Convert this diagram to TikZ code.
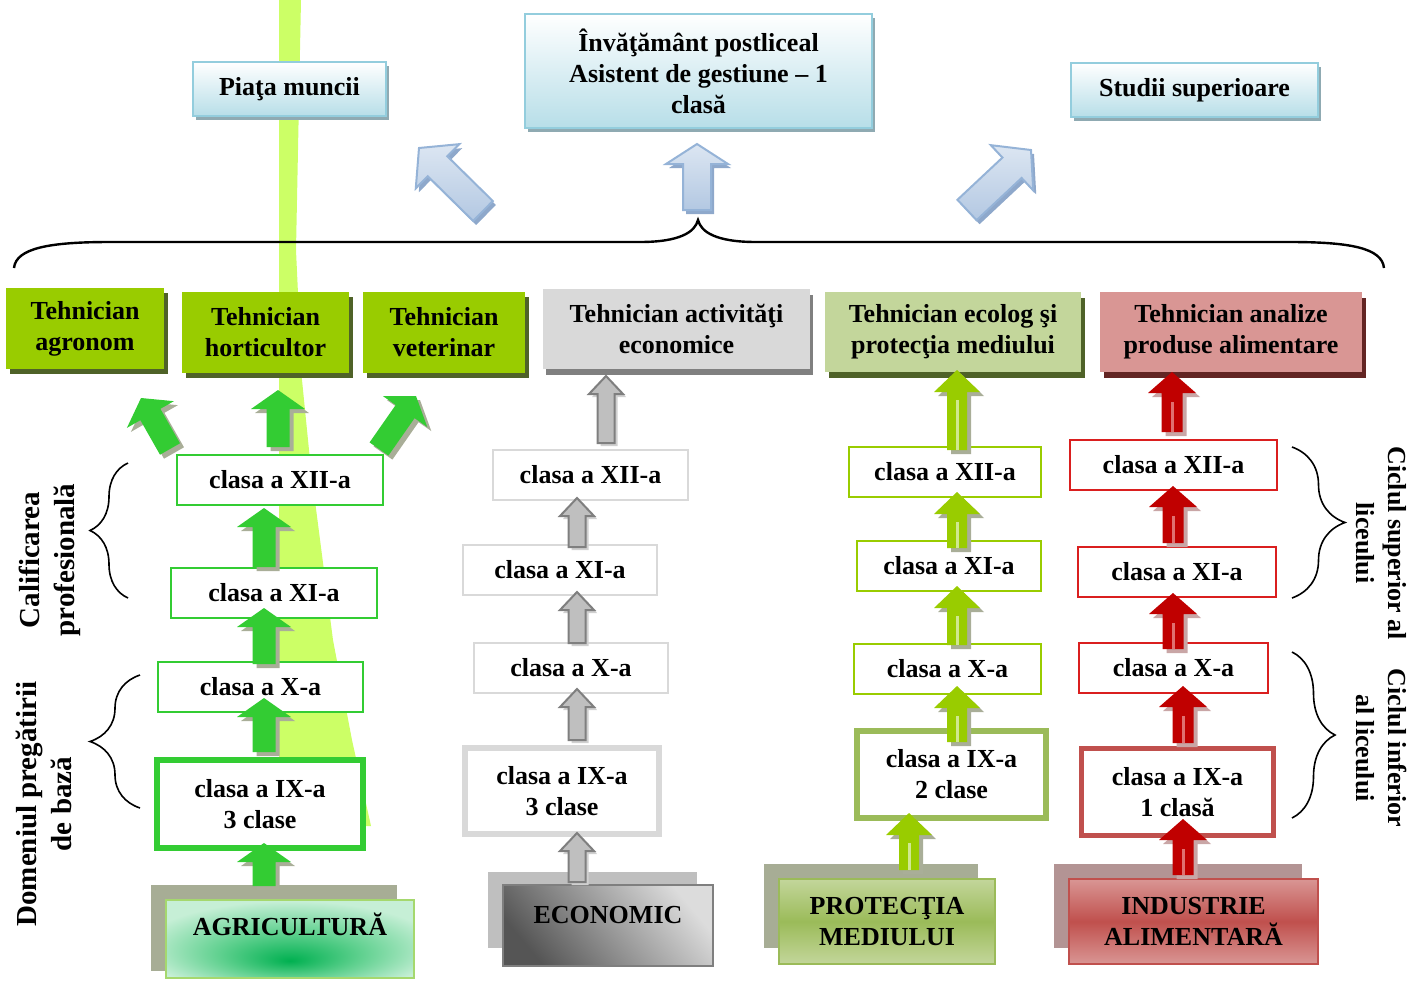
\documentclass[tikz,border=0pt]{standalone}
\usepackage{fontspec}
\setmainfont{Liberation Serif}
\usetikzlibrary{calc,shadows,decorations.pathreplacing}
\definecolor{band}{HTML}{CCFF66}
\definecolor{tbord}{HTML}{93CDDD}
\definecolor{tblue}{HTML}{B7DEE8}
\definecolor{tshad}{HTML}{8FAAB2}
\definecolor{hgreen}{HTML}{99CC00}
\definecolor{hgshad}{HTML}{4F6228}
\definecolor{hgray}{HTML}{D9D9D9}
\definecolor{hgrshad}{HTML}{808080}
\definecolor{holive}{HTML}{C3D69B}
\definecolor{hpink}{HTML}{D99694}
\definecolor{hpshad}{HTML}{632523}
\definecolor{cgreen}{HTML}{33CC33}
\definecolor{clime}{HTML}{99CC00}
\definecolor{cred}{HTML}{DA1F1F}
\definecolor{olive9}{HTML}{9BBB59}
\definecolor{red9}{HTML}{C0504D}
\definecolor{aback}{HTML}{A7AD95}
\definecolor{gback}{HTML}{BFBFBF}
\definecolor{rback}{HTML}{B39494}
\definecolor{agdark}{HTML}{00B050}
\definecolor{agmid}{HTML}{5ED08E}
\definecolor{aglight}{HTML}{C6EFD6}
\definecolor{agbord}{HTML}{A5D86E}
\definecolor{ashad}{HTML}{A9AE98}
\definecolor{gfill}{HTML}{BFBFBF}
\definecolor{gline}{HTML}{7F7F7F}
\definecolor{gshad}{HTML}{D0D0D0}
\definecolor{rarrow}{HTML}{C00000}
\definecolor{rstripe}{HTML}{E07070}
\definecolor{rshad}{HTML}{C9A6A6}
\definecolor{lstripe}{HTML}{D0E890}
\definecolor{blone}{HTML}{DCE6F2}
\definecolor{bltwo}{HTML}{B3C8E2}
\definecolor{blline}{HTML}{95B3D7}
\definecolor{blshad}{HTML}{8EA8CB}
\definecolor{eclight}{HTML}{DCDCDC}
\definecolor{ecdark}{HTML}{555555}
\pgfdeclareradialshading{agshade}{\pgfpoint{0bp}{-14bp}}{color(0bp)=(agdark); color(14bp)=(agmid); color(30bp)=(aglight); color(50bp)=(aglight)}
% block arrow: #1 style, #2 tail, #3 tip, #4 offset, #5 shaft half width, #6 head half width, #7 head length
\newcommand{\blkarrow}[7]{%
  \coordinate (bT) at ($#2+#4$);
  \coordinate (bP) at ($#3+#4$);
  \coordinate (bH) at ($(bP)!#7!(bT)$);
  \path[#1] ($(bT)!#5!90:(bP)$) -- ($(bH)!#5!90:(bP)$) -- ($(bH)!#6!90:(bP)$) -- (bP) -- ($(bH)!#6!-90:(bP)$) -- ($(bH)!#5!-90:(bP)$) -- ($(bT)!#5!-90:(bP)$) -- cycle;}
\newcommand{\greenarrow}[2]{\blkarrow{fill=ashad}{#1}{#2}{(4,4)}{5.75pt}{13.5pt}{9.5pt}\blkarrow{fill=cgreen}{#1}{#2}{(0,0)}{5.75pt}{13.5pt}{9.5pt}}
\newcommand{\grayarrow}[2]{\blkarrow{fill=gshad}{#1}{#2}{(3,3)}{4.25pt}{8.5pt}{9pt}\blkarrow{fill=gfill,draw=gline,line width=1pt}{#1}{#2}{(0,0)}{4.25pt}{8.5pt}{9pt}}
\newcommand{\limearrow}[2]{\blkarrow{fill=ashad}{#1}{#2}{(4,4)}{5pt}{11.5pt}{11pt}\blkarrow{fill=clime}{#1}{#2}{(0,0)}{5pt}{11.5pt}{11pt}\draw[lstripe,line width=1.5pt] #1 -- ($#2!15pt!#1$);}
\newcommand{\redarrow}[2]{\blkarrow{fill=rshad}{#1}{#2}{(4,4)}{5.25pt}{12pt}{10.5pt}\blkarrow{fill=rarrow}{#1}{#2}{(0,0)}{5.25pt}{12pt}{10.5pt}\draw[rstripe,line width=1.5pt] #1 -- ($#2!15pt!#1$);}
\newcommand{\bluearrow}[3]{\blkarrow{fill=blshad}{#1}{#2}{(3,4)}{7pt}{15.5pt}{#3}\blkarrow{top color=blone,bottom color=bltwo,draw=blline,line width=1pt}{#1}{#2}{(0,0)}{7pt}{15.5pt}{#3}}
\begin{document}
\begin{tikzpicture}[x=0.5pt,y=-0.5pt,
  every node/.style={inner sep=0pt, align=center, font=\bfseries\fontsize{13}{15.5}\selectfont},
  topbox/.style={draw=tbord, line width=1pt, top color=white, bottom color=tblue,
    drop shadow={fill=tshad, opacity=1, shadow xshift=1.5pt, shadow yshift=-2pt}},
  hdrgreen/.style={fill=hgreen, drop shadow={fill=hgshad, opacity=1, shadow xshift=2pt, shadow yshift=-2.5pt}},
  hdrgray/.style={fill=hgray, drop shadow={fill=hgrshad, opacity=1, shadow xshift=1.5pt, shadow yshift=-3pt}},
  hdrolive/.style={fill=holive, drop shadow={fill=hgshad, opacity=1, shadow xshift=2pt, shadow yshift=-3pt}},
  hdrpink/.style={fill=hpink, drop shadow={fill=hpshad, opacity=1, shadow xshift=2pt, shadow yshift=-3pt}},
  cbox/.style={fill=white, line width=1pt, minimum height=25pt},
  gbox/.style={cbox, draw=cgreen},
  ebox/.style={cbox, draw=hgray},
  pbox/.style={cbox, draw=clime},
  rbox/.style={cbox, draw=cred},
  brc/.style={line width=0.8pt, decorate},
  sidelabel/.style={font=\bfseries\fontsize{14.5}{17.5}\selectfont},
  rightlabel/.style={font=\bfseries\fontsize{13}{16}\selectfont, rotate=-90}
]
\useasboundingbox (0,0) rectangle (1408,980);

% lime band
\fill[band] (279,0) -- (301,0) -- (296,250) -- (302,380) -- (311,470) -- (333,640) -- (352,740) -- (371,826) -- (279,826) -- cycle;

% big brace
\draw[line width=1.2pt] (14,268) .. controls (16,248) and (50,242) .. (110,242) -- (640,242)
  .. controls (680,242) and (695,232) .. (698,220)
  .. controls (701,232) and (716,242) .. (756,242) -- (1290,242)
  .. controls (1350,242) and (1382,248) .. (1384,268);

% top boxes
\node[topbox, minimum width=96.5pt, minimum height=27pt] (piata) at (289.5,89) {Piaţa muncii};
\node[topbox, minimum width=173.5pt, minimum height=57pt] (post) at (698.5,71) {Învăţământ postliceal\\Asistent de gestiune – 1\\clasă};
\node[topbox, minimum width=123.5pt, minimum height=27pt] (studii) at (1194.5,90) {Studii superioare};

% blue arrows
\coordinate (bl1t) at (483,211); \coordinate (bl1p) at (419,148);
\coordinate (bl2t) at (697,210); \coordinate (bl2p) at (697,144);
\coordinate (bl3t) at (967,210); \coordinate (bl3p) at (1031,150);
\bluearrow{(bl1t)}{(bl1p)}{13pt}
\bluearrow{(bl2t)}{(bl2p)}{10pt}
\bluearrow{(bl3t)}{(bl3p)}{13pt}

% headers
\node[hdrgreen, minimum width=79pt, minimum height=40.5pt] (agron) at (85,328.5) {Tehnician\\agronom};
\node[hdrgreen, minimum width=83.5pt, minimum height=40.5pt] (hort) at (265.5,332.5) {Tehnician\\horticultor};
\node[hdrgreen, minimum width=81pt, minimum height=40.5pt] (vet) at (444,332.5) {Tehnician\\veterinar};
\node[hdrgray, minimum width=133.5pt, minimum height=40pt] (econh) at (676.5,329) {Tehnician activităţi\\economice};
\node[hdrolive, minimum width=128pt, minimum height=40pt] (ecol) at (953,332) {Tehnician ecolog şi\\protecţia mediului};
\node[hdrpink, minimum width=131pt, minimum height=40pt] (anal) at (1231,332) {Tehnician analize\\produse alimentare};

% column 1
\node[gbox, minimum width=103pt] (a12) at (280,480) {clasa a XII-a};
\node[gbox, minimum width=103pt] (a11) at (274,593) {clasa a XI-a};
\node[gbox, minimum width=102.5pt] (a10) at (260.5,687) {clasa a X-a};
\node[gbox, line width=3pt, minimum width=103pt, minimum height=44pt] (a9) at (260,804) {clasa a IX-a\\3 clase};
% column 2
\node[ebox, minimum width=97.5pt] (e12) at (590.5,475) {clasa a XII-a};
\node[ebox, minimum width=97pt] (e11) at (560,570) {clasa a XI-a};
\node[ebox, minimum width=97pt] (e10) at (571,668) {clasa a X-a};
\node[ebox, line width=3pt, minimum width=97pt, minimum height=43pt] (e9) at (562,791) {clasa a IX-a\\3 clase};
% column 3
\node[pbox, minimum width=96pt] (p12) at (945,472) {clasa a XII-a};
\node[pbox, minimum width=92pt] (p11) at (949,565.5) {clasa a XI-a};
\node[pbox, minimum width=93.5pt] (p10) at (947.5,669) {clasa a X-a};
\node[pbox, draw=olive9, line width=3pt, minimum width=94.5pt, minimum height=43.5pt] (p9) at (951.5,774.5) {clasa a IX-a\\2 clase};
% column 4
\node[rbox, minimum width=103.5pt] (r12) at (1173.5,464.5) {clasa a XII-a};
\node[rbox, minimum width=99pt] (r11) at (1177,571.5) {clasa a XI-a};
\node[rbox, minimum width=94.5pt] (r10) at (1173.5,668) {clasa a X-a};
\node[rbox, draw=red9, line width=2.5pt, minimum width=96pt, minimum height=43.5pt] (r9) at (1177.5,792) {clasa a IX-a\\1 clasă};

% domain boxes
\node[fill=aback, minimum width=123pt, minimum height=43pt] (agrib) at (274,928) {};
\node[shading=agshade, draw=agbord, line width=1pt, minimum width=124pt, minimum height=39pt, text height=10pt, text depth=13.5pt] (agri) at (290,939) {AGRICULTURĂ};
\node[fill=gback, minimum width=104.5pt, minimum height=38pt] (econb) at (592.5,910) {};
\node[top color=eclight, bottom color=ecdark, shading angle=-50, draw=gline, line width=1.2pt, minimum width=105pt, minimum height=40.5pt, text height=9.5pt, text depth=11.5pt] (econ) at (608,925.5) {ECONOMIC};
\node[fill=aback, minimum width=107pt, minimum height=42pt] (protb) at (871,906) {};
\node[top color=holive, bottom color=holive, middle color=olive9, draw=olive9, line width=1pt, minimum width=108pt, minimum height=42.5pt] (prot) at (887,921.5) {PROTECŢIA\\MEDIULUI};
\node[fill=rback, minimum width=124pt, minimum height=42pt] (indb) at (1178,906) {};
\node[top color=hpink, bottom color=hpink, middle color=red9, draw=red9, line width=1.2pt, minimum width=124.5pt, minimum height=42.5pt] (ind) at (1193.5,921.5) {INDUSTRIE\\ALIMENTARĂ};

% side braces and labels
\draw[brc, decoration={brace, amplitude=19pt}] (128,598) -- (128,463);
\draw[brc, decoration={brace, amplitude=25pt}] (140,808) -- (140,675);
\draw[brc, decoration={brace, amplitude=26.5pt}] (1292,447) -- (1292,598);
\draw[brc, decoration={brace, amplitude=21.5pt}] (1292,652) -- (1292,818);
\node[sidelabel, rotate=90] (calif) at (50,560) {Calificarea\\profesională};
\node[sidelabel, rotate=90] (domen) at (44,804) {Domeniul pregătirii\\de bază};
\node[rightlabel] (csup) at (1381,543) {Ciclul superior al\\liceului};
\node[rightlabel] (cinf) at (1381,748) {Ciclul inferior\\al liceului};

% green arrows
\coordinate (g1t) at (264,886); \coordinate (g1p) at (264,843);
\coordinate (g2t) at (264,752); \coordinate (g2p) at (264,698);
\coordinate (g3t) at (264,664); \coordinate (g3p) at (264,608);
\coordinate (g4t) at (264,567); \coordinate (g4p) at (264,508);
\coordinate (g5t) at (278,447); \coordinate (g5p) at (278,390);
\coordinate (g6t) at (170,449); \coordinate (g6p) at (141,398);
\coordinate (g7t) at (379,449); \coordinate (g7p) at (416,396);
\greenarrow{(g1t)}{(g1p)}
\greenarrow{(g2t)}{(g2p)}
\greenarrow{(g3t)}{(g3p)}
\greenarrow{(g4t)}{(g4p)}
\greenarrow{(g5t)}{(g5p)}
\greenarrow{(g6t)}{(g6p)}
\greenarrow{(g7t)}{(g7p)}

% gray arrows
\coordinate (k1t) at (577,882); \coordinate (k1p) at (577,833);
\coordinate (k2t) at (577,740); \coordinate (k2p) at (577,689);
\coordinate (k3t) at (577,643); \coordinate (k3p) at (577,592);
\coordinate (k4t) at (577,547); \coordinate (k4p) at (577,498);
\coordinate (k5t) at (606,443); \coordinate (k5p) at (606,376);
\grayarrow{(k1t)}{(k1p)}
\grayarrow{(k2t)}{(k2p)}
\grayarrow{(k3t)}{(k3p)}
\grayarrow{(k4t)}{(k4p)}
\grayarrow{(k5t)}{(k5p)}

% lime arrows
\coordinate (l1t) at (909,870); \coordinate (l1p) at (909,813);
\coordinate (l2t) at (957,742); \coordinate (l2p) at (957,686);
\coordinate (l3t) at (957,645); \coordinate (l3p) at (957,586);
\coordinate (l4t) at (957,548); \coordinate (l4p) at (957,492);
\coordinate (l5t) at (957,450); \coordinate (l5p) at (957,370);
\limearrow{(l1t)}{(l1p)}
\limearrow{(l2t)}{(l2p)}
\limearrow{(l3t)}{(l3p)}
\limearrow{(l4t)}{(l4p)}
\limearrow{(l5t)}{(l5p)}

% red arrows
\coordinate (r1t) at (1183,875); \coordinate (r1p) at (1183,819);
\coordinate (r2t) at (1183,743); \coordinate (r2p) at (1183,686);
\coordinate (r3t) at (1173,649); \coordinate (r3p) at (1173,593);
\coordinate (r4t) at (1173,543); \coordinate (r4p) at (1173,486);
\coordinate (r5t) at (1172,432); \coordinate (r5p) at (1172,372);
\redarrow{(r1t)}{(r1p)}
\redarrow{(r2t)}{(r2p)}
\redarrow{(r3t)}{(r3p)}
\redarrow{(r4t)}{(r4p)}
\redarrow{(r5t)}{(r5p)}
\end{tikzpicture}
\end{document}
